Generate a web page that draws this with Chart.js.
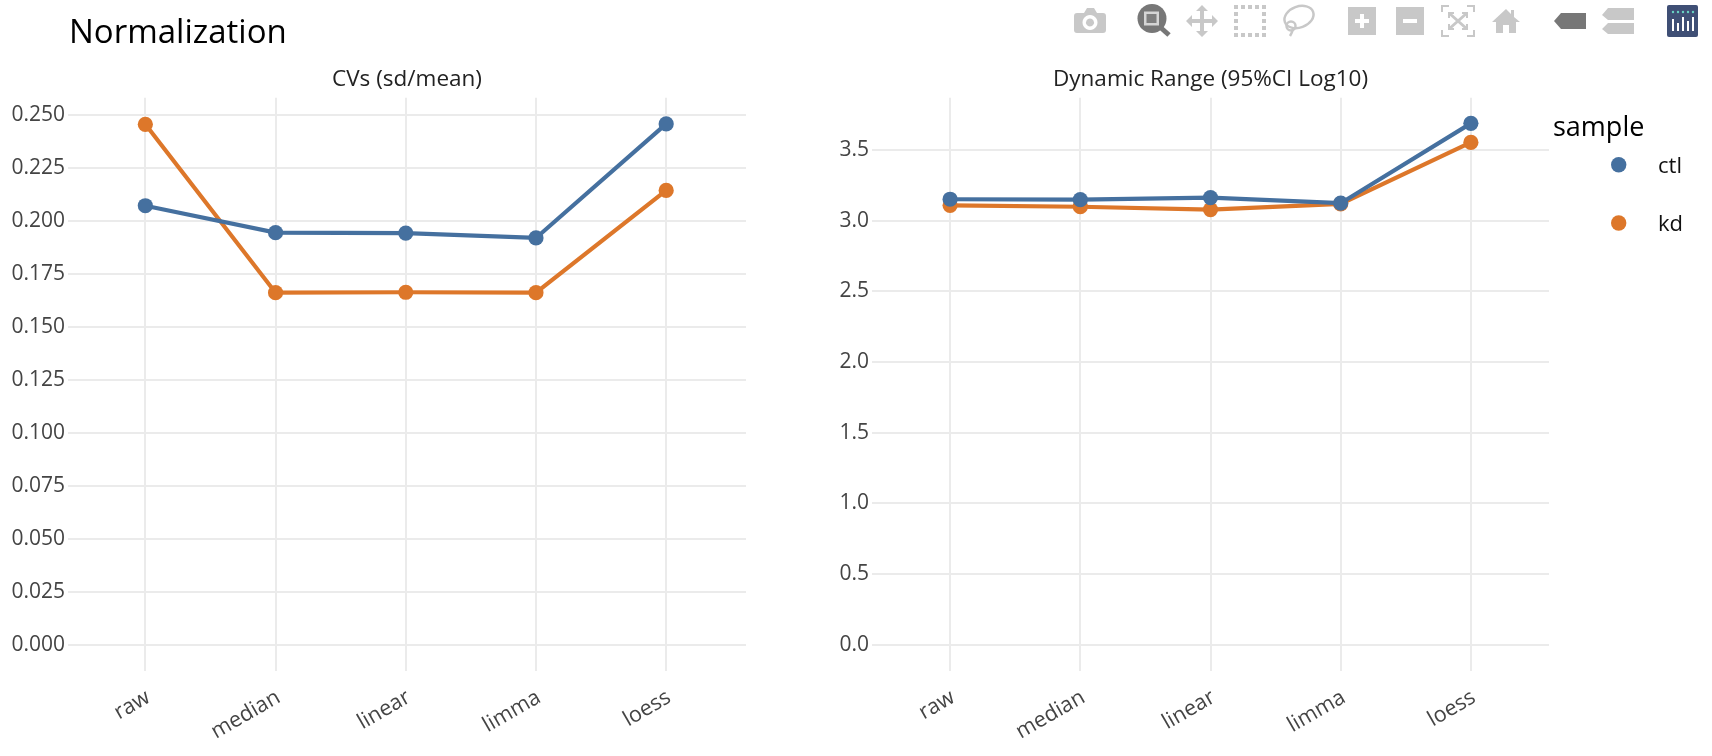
<!DOCTYPE html>
<html><head><meta charset="utf-8">
<style>
html,body{margin:0;padding:0;background:#fff;width:1712px;height:756px;overflow:hidden}
canvas,svg{position:absolute;left:0;top:0}
text{font-family:"Open Sans",sans-serif}
</style>
<script src="https://cdn.jsdelivr.net/npm/chart.js@4/dist/chart.umd.min.js"></script>
</head><body>
<canvas id="c1" width="1712" height="756" style="width:1712px;height:756px"></canvas>
<canvas id="c2" width="1712" height="756" style="width:1712px;height:756px"></canvas>
<svg width="1712" height="756" viewBox="0 0 1712 756">
  <text x="69" y="43" font-size="33" fill="#000">Normalization</text>
  <text x="1553" y="136" font-size="27" fill="#000">sample</text>
  <circle cx="1618.7" cy="164.7" r="7.7" fill="#45709f"/>
  <text x="1658" y="173" font-size="22" fill="#111">ctl</text>
  <circle cx="1618.7" cy="223" r="7.7" fill="#dd772a"/>
  <text x="1658" y="231" font-size="22" fill="#111">kd</text>
  <!-- modebar icons -->
  <g fill="#c8c8c8">
    <path fill-rule="evenodd" d="M1077 13h7l3-5h7l3 5h6a3 3 0 0 1 3 3v14a3 3 0 0 1-3 3h-26a3 3 0 0 1-3-3V16a3 3 0 0 1 3-3zM1090 15a7.500 7.500 0 1 0 .01 0zM1090 18.500a4 4 0 1 1-.01 0z"/>
    <path d="M1202 5l6 6h-4v8h8v-4l6 6-6 6v-4h-8v8h4l-6 6-6-6h4v-8h-8v4l-6-6 6-6v4h8v-8h-4z"/>
    <g><rect x="1234" y="5" width="4" height="4"/><rect x="1241" y="5" width="4" height="4"/><rect x="1248" y="5" width="4" height="4"/><rect x="1255" y="5" width="4" height="4"/><rect x="1262" y="5" width="4" height="4"/><rect x="1234" y="12" width="4" height="4"/><rect x="1262" y="12" width="4" height="4"/><rect x="1234" y="19" width="4" height="4"/><rect x="1262" y="19" width="4" height="4"/><rect x="1234" y="26" width="4" height="4"/><rect x="1262" y="26" width="4" height="4"/><rect x="1234" y="33" width="4" height="4"/><rect x="1241" y="33" width="4" height="4"/><rect x="1248" y="33" width="4" height="4"/><rect x="1255" y="33" width="4" height="4"/><rect x="1262" y="33" width="4" height="4"/></g>
    <path fill-rule="evenodd" d="M1348 7h28v28h-28zM1360 14v5h-5v4h5v5h4v-5h5v-4h-5v-5z"/>
    <path fill-rule="evenodd" d="M1396 7h28v28h-28zM1403 19v4h14v-4z"/>
    <path d="M1506 9l5 5v-4h3v7l6 5h-4v11h-7v-8h-6v8h-7v-11h-4z"/>
    <path d="M1602 15l6-7h26v12h-26zM1602 29l6-6h26v11h-26z"/>
  </g>
  <g fill="none" stroke="#c8c8c8" stroke-width="2.500">
    <ellipse cx="1299" cy="17" rx="15" ry="10.500" transform="rotate(-20 1299 17)"/>
    <circle cx="1291" cy="26" r="4.500"/>
    <path d="M1293 29q-1 4-3 7"/>
  </g>
  <g fill="none" stroke="#c8c8c8" stroke-width="2"><path d="M1442 12V6h7M1467 6h7v6M1474 30v6h-7M1449 36h-7v-6"/><path d="M1449 13l18 16M1467 13l-18 16" stroke-width="3"/><path d="M1449 18v-5h5M1462 13h5v5M1467 24v5h-5M1454 29h-5v-5" /></g>
  <g>
    <path fill="#777" d="M1554 21l7-8h25v16h-25z"/>
    <circle cx="1152" cy="18.500" r="14.500" fill="#777"/>
    <path d="M1160 27l9 8" stroke="#777" stroke-width="5" fill="none"/>
    <rect x="1144" y="11.500" width="15" height="14" fill="#d5d5d5"/>
    <rect x="1146.500" y="14" width="10" height="9" fill="#7f7f7f"/>
    <rect x="1667" y="5" width="31" height="32" rx="2" fill="#3f4f75"/>
    <g fill="#fff"><rect x="1672" y="19" width="2" height="12"/><rect x="1677" y="23" width="2" height="8"/><rect x="1682" y="17" width="2" height="14"/><rect x="1687" y="21" width="2" height="10"/><rect x="1692" y="17" width="2" height="14"/></g>
    <g fill="#69d3c3"><circle cx="1673" cy="12" r="1.200"/><circle cx="1678" cy="12" r="1.200"/><circle cx="1683" cy="12" r="1.200"/><circle cx="1688" cy="12" r="1.200"/><circle cx="1693" cy="12" r="1.200"/></g>
  </g>
</svg>
<script>
const categories = ["raw","median","linear","limma","loess"];
const cvCtl = [0.2070,0.1943,0.1941,0.1918,0.2456];
const cvKd  = [0.2454,0.1660,0.1662,0.1660,0.2142];
const drCtl = [3.153,3.150,3.165,3.125,3.690];
const drKd  = [3.110,3.100,3.080,3.120,3.555];
const cvTicks = [0,0.025,0.05,0.075,0.1,0.125,0.15,0.175,0.2,0.225,0.25];
const drTicks = [0,0.5,1,1.5,2,2.5,3,3.5];
const positions = [0,1,2,3,4];
const seriesNames = ["ctl","kd"];
const seriesColors = ["#45709f","#dd772a"];
const FONT = '"Open Sans", sans-serif';

function make(id, title, a, b, yTicks, decimals, yMin, yMax, xMin, xMax, pad, yWidth){
  const ds = (name, vals, col) => ({
    label:name, data:vals.map((v,i)=>({x:positions[i],y:v})),
    borderColor:col, backgroundColor:col, pointBackgroundColor:col, pointBorderColor:col,
    borderWidth:4.2, pointRadius:7.6, pointBorderWidth:0, tension:0, clip:false
  });
  return new Chart(document.getElementById(id),{
    type:'line',
    data:{datasets:[ds(seriesNames[0],a,seriesColors[0]),ds(seriesNames[1],b,seriesColors[1])]},
    options:{
      responsive:false, animation:false, devicePixelRatio:1,
      layout:{padding:pad},
      plugins:{
        legend:{display:false}, tooltip:{enabled:false},
        title:{display:true,text:title,fullSize:false,color:'#222',
          font:{family:FONT,size:22.5,weight:'normal',lineHeight:1.2},padding:{top:0,bottom:4.5}}
      },
      scales:{
        x:{type:'linear',min:xMin,max:xMax,
          border:{display:false},
          grid:{color:'#ebebeb',lineWidth:2,drawTicks:false},
          afterBuildTicks:s=>{s.ticks=positions.map(v=>({value:v}));},
          afterFit:s=>{s.height=85.3;},
          ticks:{autoSkip:false,maxRotation:30,minRotation:30,padding:14,labelOffset:3,color:'#444',
            font:{family:FONT,size:21.5},callback:v=>categories[v]}
        },
        y:{type:'linear',min:yMin,max:yMax,
          border:{display:false},
          grid:{color:'#ebebeb',lineWidth:2,drawTicks:false},
          afterBuildTicks:s=>{s.ticks=yTicks.map(v=>({value:v}));},
          afterFit:s=>{s.width=yWidth;},
          ticks:{autoSkip:false,padding:3,color:'#444',
            font:{family:FONT,size:21},callback:v=>Number(v).toFixed(decimals)}
        }
      }
    }
  });
}
make('c1','CVs (sd/mean)',cvCtl,cvKd,cvTicks,3,-0.01227,0.2579,-0.594,4.613,{left:0,right:966,top:66.3,bottom:0},68);
make('c2','Dynamic Range (95%CI Log10)',drCtl,drKd,drTicks,1,-0.184,3.871,-0.6,4.6,{left:802,right:163,top:66.3,bottom:0},70);
</script>
</body></html>
